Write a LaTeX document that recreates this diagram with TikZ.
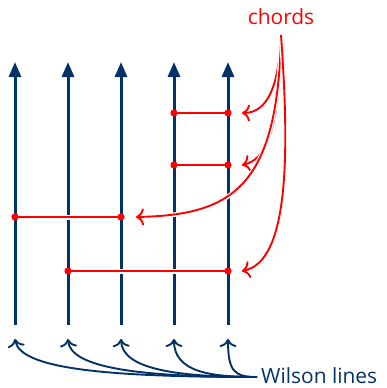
\documentclass[tikz,border=0pt]{standalone}
\usepackage{fontspec}
\setmainfont{Open Sans}
\usetikzlibrary{arrows.meta}
\definecolor{wblue}{RGB}{3,51,102}
\definecolor{cred}{RGB}{255,0,0}
\tikzset{
  wline/.style={draw=wblue, line width=3bp, -{Triangle[width=12bp,length=15bp]}},
  chord/.style={draw=cred, line width=2bp, preaction={draw=white, line width=5bp}},
  cdot/.style={fill=cred, draw=none},
  redarrow/.style={draw=cred, line width=1.9bp, preaction={draw=white, line width=4.5bp}, -{Computer Modern Rightarrow[width=17bp,length=8bp]}},
  bluearrow/.style={draw=wblue, line width=1.9bp, -{Computer Modern Rightarrow[width=17bp,length=8bp]}},
  lab/.style={font=\fontsize{21}{25}\selectfont, inner sep=0pt}
}
\begin{document}
\begin{tikzpicture}[x=1bp, y=-1bp]
\useasboundingbox (0,0) rectangle (387,388);
% Wilson lines
\foreach \i/\x in {1/15,2/68,3/121,4/174,5/228} {
  \coordinate (b\i) at (\x,325);
  \coordinate (t\i) at (\x,62);
  \coordinate (w\i) at (\x,339);
  \draw[wline] (b\i) -- (t\i);
}
% chord endpoints
\coordinate (c1a) at (174,113); \coordinate (c1b) at (228,113);
\coordinate (c2a) at (174,165); \coordinate (c2b) at (228,165);
\coordinate (c3a) at (15,217);  \coordinate (c3b) at (121,217);
\coordinate (c4a) at (68,271);  \coordinate (c4b) at (228,271);
\draw[chord] (c1a) -- (c1b);
\draw[chord] (c2a) -- (c2b);
\draw[chord] (c3a) -- (c3b);
\draw[chord] (c4a) -- (c4b);
\foreach \p in {c1a,c1b,c2a,c2b,c3a,c3b,c4a,c4b} \fill[cdot] (\p) circle (3.6bp);
% labels
\node[lab, text=cred] (chords) at (281,17) {chords};
\node[lab, text=wblue, anchor=west] (wilson) at (261,376) {Wilson lines};
\coordinate (cs) at (281,35);
\coordinate (ws) at (257,377);
% chord arrow targets
\coordinate (a1) at (242,113);
\coordinate (a2) at (242,165);
\coordinate (a3) at (136,217);
\coordinate (a4) at (242,271);
\draw[redarrow] (cs) .. controls (279,85) and (268,113) .. (a1);
\draw[redarrow] (cs) .. controls (280,130) and (266,160) .. (a2);
\draw[redarrow] (cs) .. controls (278,190) and (230,215) .. (a3);
\draw[redarrow] (cs) .. controls (290,160) and (288,262) .. (a4);
% Wilson line arrows
\draw[bluearrow] (ws) .. controls (100,377) and (20,368) .. (w1);
\draw[bluearrow] (ws) .. controls (140,377) and (70,368) .. (w2);
\draw[bluearrow] (ws) .. controls (180,377) and (122,370) .. (w3);
\draw[bluearrow] (ws) .. controls (210,377) and (174,372) .. (w4);
\draw[bluearrow] (ws) .. controls (235,377) and (228,372) .. (w5);
\end{tikzpicture}
\end{document}
